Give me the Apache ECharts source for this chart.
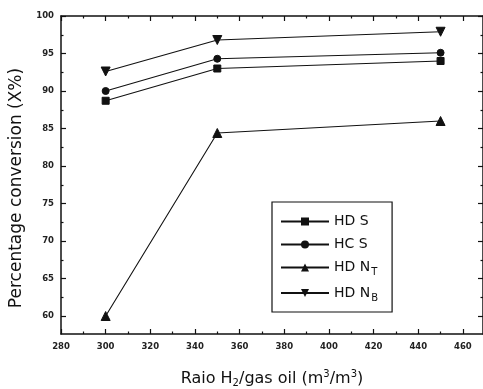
<!DOCTYPE html>
<html>
<head>
<meta charset="utf-8">
<script src="https://cdn.jsdelivr.net/npm/echarts@6/dist/echarts.min.js"></script>
<style>
html,body{margin:0;padding:0;background:#fff;}
#chart{width:483px;height:389px;}
</style>
</head>
<body>
<div id="chart"></div>
<script>
var xValues = [300, 350, 450];
var hdsValues = [88.7, 93.0, 94.0];
var hcsValues = [90.0, 94.3, 95.1];
var hdntValues = [60.0, 84.4, 86.0];
var hdnbValues = [92.6, 96.8, 97.9];
var xMajorTicks = [280, 300, 320, 340, 360, 380, 400, 420, 440, 460];
var xMinorTicks = [290, 310, 330, 350, 370, 390, 410, 430, 450];
var yMajorTicks = [60, 65, 70, 75, 80, 85, 90, 95, 100];
var yMinorTicks = [62.5, 67.5, 72.5, 77.5, 82.5, 87.5, 92.5, 97.5];
var seriesNames = ['HD S', 'HC S', 'HD NT', 'HD NB'];

function pairs(vals) { return xValues.map(function (x, i) { return [x, vals[i]]; }); }

var chart = echarts.init(document.getElementById('chart'));
var FONT = 'DejaVu Sans';
var lineCol = '#111';

function xAx(pos, ticks, len, main) {
  return {
    type: 'value', position: pos, min: 280, max: 469, gridIndex: 0,
    axisLine: { show: main, onZero: false, lineStyle: { color: lineCol, width: 1.5 } },
    axisTick: { show: true, inside: true, length: len, customValues: ticks, lineStyle: { color: lineCol, width: 1.2 } },
    axisLabel: { show: main && pos === 'bottom', customValues: ticks, fontSize: 8.5, fontWeight: 'bold', fontFamily: FONT, color: '#222', margin: 8 },
    splitLine: { show: false }
  };
}
function yAx(pos, ticks, len, main) {
  return {
    type: 'value', position: pos, min: 57.6, max: 100, gridIndex: 0,
    axisLine: { show: main, onZero: false, lineStyle: { color: lineCol, width: 1.5 } },
    axisTick: { show: true, inside: true, length: len, customValues: ticks, lineStyle: { color: lineCol, width: 1.2 } },
    axisLabel: { show: main && pos === 'left', customValues: ticks, fontSize: 8.5, fontWeight: 'bold', fontFamily: FONT, color: '#222', margin: 7 },
    splitLine: { show: false }
  };
}

var xAxes = [xAx('bottom', xMajorTicks, 5, true), xAx('bottom', xMinorTicks, 2.5, false),
             xAx('top', xMajorTicks, 5, true), xAx('top', xMinorTicks, 2.5, false)];
xAxes[0].name = 'Raio H{sub|2}/gas oil (m{sup|3}/m{sup|3})';
xAxes[0].nameLocation = 'middle';
xAxes[0].nameGap = 35;
xAxes[0].nameTextStyle = {
  fontSize: 16, fontFamily: FONT, color: '#111',
  rich: { sub: { fontSize: 10, fontFamily: FONT, color: '#111', padding: [9, 0, 0, 0] },
          sup: { fontSize: 10, fontFamily: FONT, color: '#111', padding: [0, 0, 9, 0] } }
};
var yAxes = [yAx('left', yMajorTicks, 5, true), yAx('left', yMinorTicks, 2.5, false),
             yAx('right', yMajorTicks, 5, true), yAx('right', yMinorTicks, 2.5, false)];
yAxes[0].name = 'Percentage conversion (X%)';
yAxes[0].nameLocation = 'middle';
yAxes[0].nameGap = 34;
yAxes[0].nameTextStyle = { fontSize: 17, fontFamily: FONT, color: '#111', padding: [0, 26, 0, 0] };

function mk(name, vals, symbol, size, rotate) {
  return {
    name: name, type: 'line', data: pairs(vals), xAxisIndex: 0, yAxisIndex: 0,
    symbol: symbol, symbolSize: size, symbolRotate: rotate || 0, showSymbol: true,
    lineStyle: { color: lineCol, width: 1.1 },
    itemStyle: { color: lineCol, borderColor: lineCol },
    animation: false
  };
}

chart.setOption({
  animation: false,
  grid: { left: 61, right: 0, top: 16, bottom: 55, containLabel: false, outerBoundsMode: 'none' },
  xAxis: xAxes,
  yAxis: yAxes,
  legend: {
    orient: 'vertical', left: 272, top: 202,
    width: 117,
    padding: [12, 14, 9, 8],
    borderColor: lineCol, borderWidth: 1.2,
    itemWidth: 48, itemHeight: 10, itemGap: 8,
    data: seriesNames,
    formatter: function (n) {
      if (n === 'HD NT') return 'HD N{sb|T}';
      if (n === 'HD NB') return 'HD N{sb|B}';
      return n;
    },
    textStyle: {
      fontSize: 14, fontFamily: FONT, color: '#111', lineHeight: 15,
      rich: { sb: { fontSize: 10, fontFamily: FONT, color: '#111', padding: [10, 0, 0, 1] } }
    }
  },
  series: [
    mk('HD S', hdsValues, 'rect', 7),
    mk('HC S', hcsValues, 'circle', 7),
    mk('HD NT', hdntValues, 'triangle', 9),
    mk('HD NB', hdnbValues, 'triangle', 9, 180)
  ]
});
</script>
</body>
</html>
